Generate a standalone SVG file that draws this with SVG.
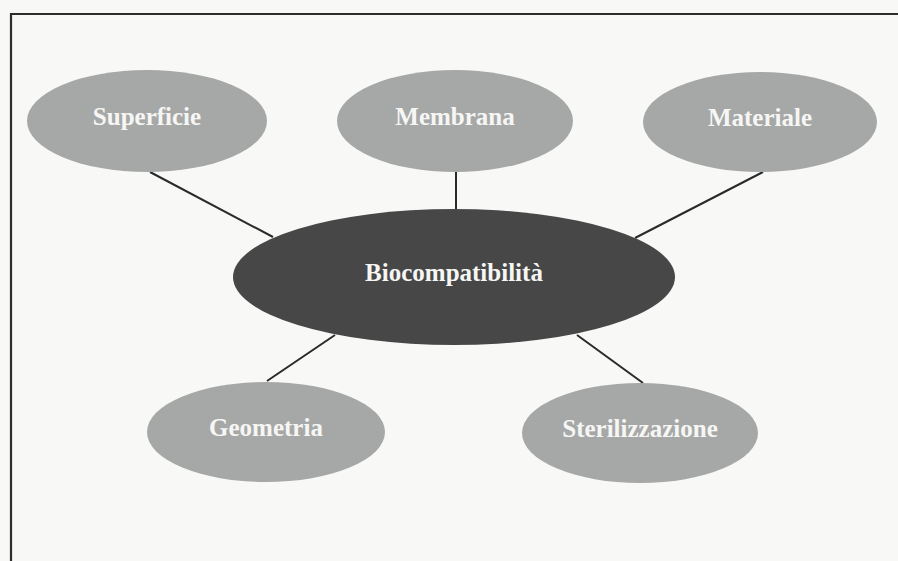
<svg xmlns="http://www.w3.org/2000/svg" width="898" height="561" viewBox="0 0 898 561">
<style>
.n{fill:#a6a8a7}
.c{fill:#474747}
.t{font-family:"Liberation Serif","Times New Roman",serif;font-weight:bold;font-size:25px;fill:#f6f6f4;text-anchor:middle}
.e{stroke:#2a2a2a;stroke-width:2;fill:none}
</style>
<rect x="0" y="0" width="898" height="561" fill="#f8f8f6"/>
<path d="M11,561 L11,14 L898,14" fill="none" stroke="#2e2e2e" stroke-width="2.2"/>
<g id="connectors">
<line class="e" x1="150" y1="172" x2="273" y2="237"/>
<line class="e" x1="456" y1="172" x2="456" y2="210"/>
<line class="e" x1="763" y1="172" x2="635" y2="238"/>
<line class="e" x1="267" y1="381" x2="335" y2="335"/>
<line class="e" x1="643" y1="383" x2="577" y2="335"/>
</g>
<g id="superficie"><ellipse class="n" cx="147" cy="121" rx="120" ry="51"/><text class="t" x="147" y="125">Superficie</text></g>
<g id="membrana"><ellipse class="n" cx="455" cy="121" rx="118" ry="51"/><text class="t" x="455" y="125">Membrana</text></g>
<g id="materiale"><ellipse class="n" cx="760" cy="122" rx="117" ry="50"/><text class="t" x="760" y="126">Materiale</text></g>
<g id="biocompatibilita"><ellipse class="c" cx="454" cy="277" rx="221" ry="68"/><text class="t" x="454" y="281">Biocompatibilità</text></g>
<g id="geometria"><ellipse class="n" cx="266" cy="432" rx="119" ry="50"/><text class="t" x="266" y="436">Geometria</text></g>
<g id="sterilizzazione"><ellipse class="n" cx="640" cy="433" rx="118" ry="50"/><text class="t" x="640" y="437">Sterilizzazione</text></g>
</svg>
